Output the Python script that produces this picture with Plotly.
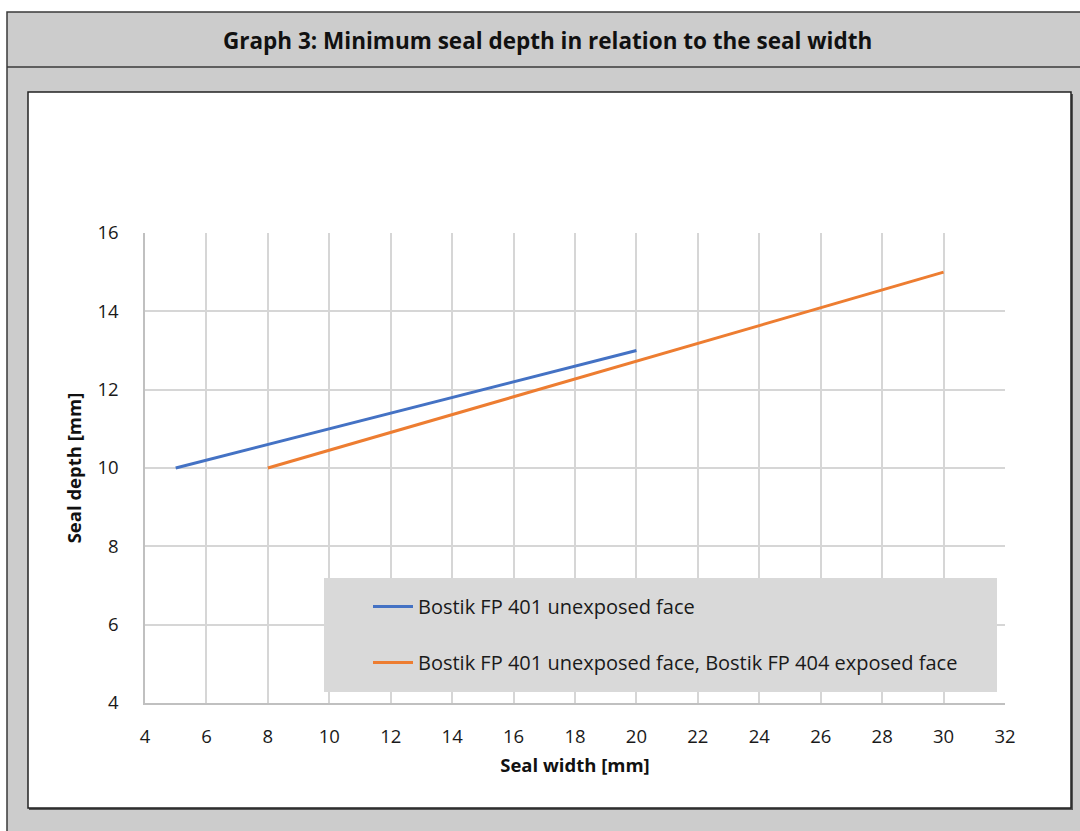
import plotly.graph_objects as go

# ---- data ----
series_names = [
    "Bostik FP 401 unexposed face",
    "Bostik FP 401 unexposed face, Bostik FP 404 exposed face",
]
blue_width = [5, 20]
blue_depth = [10, 13]
orange_width = [8, 30]
orange_depth = [10, 15]
x_ticks = [4, 6, 8, 10, 12, 14, 16, 18, 20, 22, 24, 26, 28, 30, 32]
y_ticks = [4, 6, 8, 10, 12, 14, 16]
title_text = "Graph 3: Minimum seal depth in relation to the seal width"
x_title = "Seal width [mm]"
y_title = "Seal depth [mm]"

W, H = 1080, 831
L, R, T, B = 145, 1005, 233, 703  # plot area in pixels


def px(x):
    return (x - L) / (R - L)


def py(y):
    return (B - y) / (B - T)


FONT = "Open Sans"
fig = go.Figure()
fig.add_trace(go.Scatter(x=blue_width, y=blue_depth, mode="lines", name=series_names[0],
                         line=dict(color="#4472C4", width=3), legendgroup="a"))
fig.add_trace(go.Scatter(x=orange_width, y=orange_depth, mode="lines", name=series_names[1],
                         line=dict(color="#ED7D31", width=3), legendgroup="b"))

shapes = [
    # outer gray panel
    dict(type="rect", xref="paper", yref="paper", x0=px(7), x1=px(1090), y0=py(12), y1=py(840),
         fillcolor="#cccccc", line=dict(color="#3a3a3a", width=1.5), layer="below"),
    # title band separator
    dict(type="line", xref="paper", yref="paper", x0=px(7), x1=px(1090), y0=py(67), y1=py(67),
         line=dict(color="#3a3a3a", width=1.5), layer="below"),
    # inner white box shadow
    dict(type="rect", xref="paper", yref="paper", x0=px(29), x1=px(1073), y0=py(94), y1=py(810),
         fillcolor="#555555", line=dict(width=0), layer="below"),
    dict(type="rect", xref="paper", yref="paper", x0=px(28), x1=px(1071), y0=py(92), y1=py(808),
         fillcolor="white", line=dict(color="#222222", width=1.5), layer="below"),
    # legend background
    dict(type="rect", xref="paper", yref="paper", x0=px(324), x1=px(997), y0=py(578), y1=py(692),
         fillcolor="#d9d9d9", line=dict(width=0), layer="above"),
]

fig.update_layout(
    width=W, height=H,
    margin=dict(l=L, r=W - R, t=T, b=H - B),
    paper_bgcolor="white", plot_bgcolor="white",
    shapes=shapes,
    showlegend=True,
    legend=dict(x=px(368), y=py(587), xanchor="left", yanchor="top",
                bgcolor="rgba(0,0,0,0)", traceorder="grouped", tracegroupgap=27,
                font=dict(family=FONT, size=20, color="#1a1a1a"),
                itemwidth=40),
    annotations=[
        dict(text="<b>" + title_text + "</b>", xref="paper", yref="paper", x=px(547), y=py(40),
             xanchor="center", yanchor="middle", showarrow=False,
             font=dict(family=FONT, size=22.5, color="#111111")),
    ],
    xaxis=dict(range=[4, 32], tickvals=x_ticks, ticktext=[str(v) for v in x_ticks],
               showgrid=True, gridcolor="#d6d6d6", gridwidth=1.5,
               showline=True, linecolor="#c0c0c0", linewidth=1.5, mirror=False,
               zeroline=False, ticks="", ticklen=0, ticklabelstandoff=16,
               tickfont=dict(family=FONT, size=18.5, color="#1a1a1a"),
               title=dict(text="<b>" + x_title + "</b>", standoff=12,
                          font=dict(family=FONT, size=18.5, color="#111111"))),
    yaxis=dict(range=[4, 16], tickvals=y_ticks, ticktext=[str(v) for v in y_ticks],
               showgrid=True, gridcolor="#d6d6d6", gridwidth=1.5,
               showline=True, linecolor="#c0c0c0", linewidth=1.5,
               zeroline=False, ticks="", ticklen=0, ticklabelstandoff=21,
               tickfont=dict(family=FONT, size=18.5, color="#1a1a1a"),
               title=dict(text="<b>" + y_title + "</b>", standoff=11,
                          font=dict(family=FONT, size=18.5, color="#111111"))),
)
fig.write_html("out.html", config={"displayModeBar": False},
               post_script="document.body.style.margin='0';document.body.style.overflow='hidden';")
